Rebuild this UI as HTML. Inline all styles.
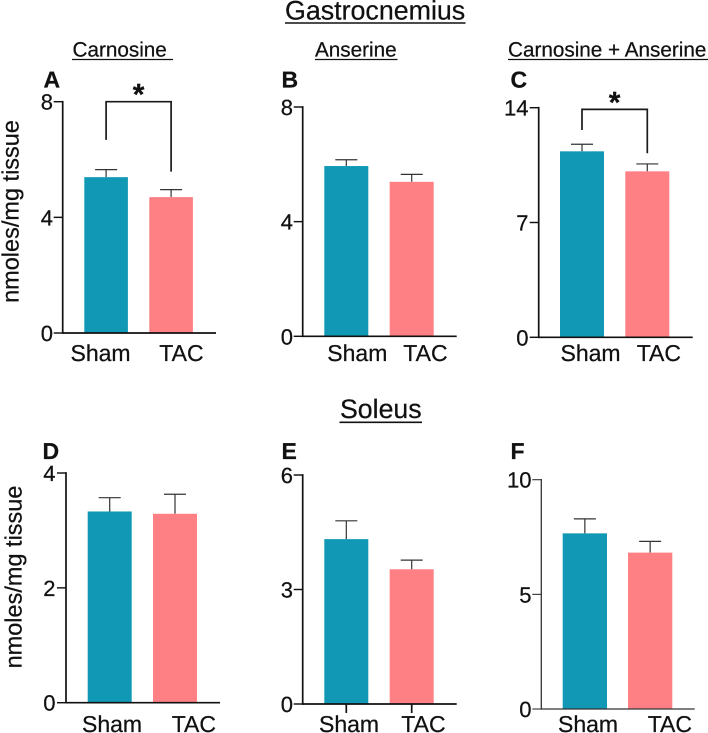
<!DOCTYPE html>
<html lang="en">
<head>
<meta charset="utf-8">
<title>Gastrocnemius and Soleus carnosine and anserine</title>
<style>
html,body{margin:0;padding:0;background:#fff;width:708px;height:733px;overflow:hidden}
svg{display:block}
text{font-family:"Liberation Sans",sans-serif;fill:#111;stroke:#111;stroke-width:0.25px;text-rendering:geometricPrecision}
</style>
</head>
<body>
<svg id="figure" xmlns="http://www.w3.org/2000/svg" width="708" height="733" viewBox="0 0 708 733">
  <text x="285" y="19.5" font-size="26.8">Gastrocnemius</text>
  <line x1="285" x2="465.5" y1="23" y2="23" stroke="#111" stroke-width="1.6"/>
  <text x="340" y="418" font-size="26.7">Soleus</text>
  <line x1="339.5" x2="422" y1="422.3" y2="422.3" stroke="#111" stroke-width="1.6"/>
  <text x="72.5" y="56.5" font-size="20.7">Carnosine</text>
  <line x1="72" x2="173" y1="59.5" y2="59.5" stroke="#111" stroke-width="1.3"/>
  <text x="315" y="56.5" font-size="20.7">Anserine</text>
  <line x1="315" x2="397.5" y1="59.5" y2="59.5" stroke="#111" stroke-width="1.3"/>
  <text x="508" y="56.5" font-size="20.7">Carnosine + Anserine</text>
  <line x1="508" x2="708" y1="59.5" y2="59.5" stroke="#111" stroke-width="1.3"/>
  <text transform="translate(18.5 211.5) rotate(-90)" text-anchor="middle" font-size="23.5">nmoles/mg tissue</text>
  <text transform="translate(21.5 577) rotate(-90)" text-anchor="middle" font-size="23.5">nmoles/mg tissue</text>
</svg>
<script>
// Chart data
const categories = ["Sham", "TAC"];

const panelAMeans = [5.39, 4.70];
const panelAUpper = [5.65, 4.96];
const panelATicks = [0, 4, 8];
const panelABracket = [8, 6.68, 5.58];

const panelBMeans = [5.94, 5.39];
const panelBUpper = [6.16, 5.65];
const panelBTicks = [0, 4, 8];

const panelCMeans = [11.34, 10.12];
const panelCUpper = [11.77, 10.57];
const panelCTicks = [0, 7, 14];
const panelCBracket = [13.9, 12.64, 11.22];

const panelDMeans = [3.33, 3.29];
const panelDUpper = [3.57, 3.63];
const panelDTicks = [0, 2, 4];

const panelEMeans = [4.32, 3.53];
const panelEUpper = [4.80, 3.77];
const panelETicks = [0, 3, 6];

const panelFMeans = [7.66, 6.82];
const panelFUpper = [8.29, 7.31];
const panelFTicks = [0, 5, 10];

const barColors = ["#1198b4", "#ff8084"];
const NS = "http://www.w3.org/2000/svg";
const figure = document.getElementById("figure");

function make(tag, parent, attrs) {
  const el = document.createElementNS(NS, tag);
  for (const k in attrs) el.setAttribute(k, attrs[k]);
  parent.appendChild(el);
  return el;
}

function drawPanel(p) {
  const group = make("g", figure, {});
  
  

  const top = p.ticks[p.ticks.length - 1];
  const yScale = v => p.y0 - (v / top) * (p.y0 - p.yTop);
  const barLeft = i => p.barX[i];
  const barCenter = i => p.barX[i] + p.barW / 2;

  const letter = make("text", group, {x: p.letterX, y: p.letterY, "font-size": 23, "font-weight": "bold"});
  letter.textContent = p.letter;
  
  

  p.means.forEach((m, i) => {
    const errX = barCenter(i);
    const stem = make("line", group, {x1: errX, x2: errX, y1: yScale(m), y2: yScale(p.upper[i]), stroke: "#333", "stroke-width": 1.2});
    
    
    const cap = make("line", group, {x1: errX - 11, x2: errX + 11, y1: yScale(p.upper[i]), y2: yScale(p.upper[i]), stroke: "#333", "stroke-width": 1.2});
    
    
    const bar = make("rect", group, {x: barLeft(i), y: yScale(m), width: p.barW, height: p.y0 - yScale(m), fill: barColors[i]});
    
    
    const label = make("text", group, {x: p.labelX[i], y: p.labelY, "font-size": 23});
    label.textContent = categories[i];
    
    
    if (p.xTicks) {
      const xTick = make("line", group, {x1: errX, x2: errX, y1: p.y0, y2: p.y0 + 9, stroke: p.axis, "stroke-width": p.axisW});
      
      
    }
  });

  const yAxis = make("line", group, {x1: p.axisX, x2: p.axisX, y1: p.yTop - p.axisW / 2, y2: p.y0 + p.axisW / 2, stroke: p.axis, "stroke-width": p.axisW});
  
  
  const xAxis = make("line", group, {x1: p.axisX, x2: p.axisEnd, y1: p.y0, y2: p.y0, stroke: p.axis, "stroke-width": p.axisW});
  
  

  p.ticks.forEach(t => {
    const tick = make("line", group, {x1: p.axisX - 9, x2: p.axisX, y1: yScale(t), y2: yScale(t), stroke: p.axis, "stroke-width": p.axisW * 0.85});
    
    
    const tickLabel = make("text", group, {x: p.tickRight, y: yScale(t) + 8, "font-size": 22, "text-anchor": "end"});
    tickLabel.textContent = t;
    
    
  });

  if (p.bracket) {
    const xa = barCenter(0), xb = barCenter(1);
    const path = make("path", group, {
      d: "M" + xa + " " + yScale(p.bracket[1]) + "V" + yScale(p.bracket[0]) + "H" + xb + "V" + yScale(p.bracket[2]),
      fill: "none", stroke: "#1a1a1a", "stroke-width": 1.7
    });
    
    
    const star = make("text", group, {x: (xa + xb) / 2, y: yScale(p.bracket[0]) + 3, "font-size": 30, "font-weight": "bold", "text-anchor": "middle"});
    star.textContent = "*";
    
    
  }
}

drawPanel({letter: "A", means: panelAMeans, upper: panelAUpper, ticks: panelATicks, bracket: panelABracket,
  axisX: 62.7, axisEnd: 216, y0: 333, yTop: 101.7, barX: [84.3, 149.3], barW: 43.6,
  labelX: [70.5, 159.3], labelY: 361, tickRight: 53, letterX: 43.5, letterY: 87.3, axis: "#111", axisW: 1.7});
drawPanel({letter: "B", means: panelBMeans, upper: panelBUpper, ticks: panelBTicks,
  axisX: 302.7, axisEnd: 456.7, y0: 336.3, yTop: 107, barX: [324.3, 389.7], barW: 44,
  labelX: [327.3, 403.3], labelY: 361, tickRight: 293, letterX: 281.5, letterY: 87.3, axis: "#111", axisW: 1.7});
drawPanel({letter: "C", means: panelCMeans, upper: panelCUpper, ticks: panelCTicks, bracket: panelCBracket,
  axisX: 538.7, axisEnd: 692.7, y0: 337.3, yTop: 107.7, barX: [560, 625.3], barW: 44,
  labelX: [560.5, 636.7], labelY: 361, tickRight: 528.5, letterX: 510.5, letterY: 87.3, axis: "#111", axisW: 1.7});
drawPanel({letter: "D", means: panelDMeans, upper: panelDUpper, ticks: panelDTicks,
  axisX: 66, axisEnd: 220, y0: 702.7, yTop: 473, barX: [87.7, 153], barW: 44,
  labelX: [82, 171.7], labelY: 732, tickRight: 55.5, letterX: 42.5, letterY: 459, axis: "#111", axisW: 1.7});
drawPanel({letter: "E", means: panelEMeans, upper: panelEUpper, ticks: panelETicks, xTicks: true,
  axisX: 302.7, axisEnd: 456.7, y0: 704, yTop: 475, barX: [324.3, 389.7], barW: 44,
  labelX: [319, 401.3], labelY: 732, tickRight: 293, letterX: 281.5, letterY: 459, axis: "#111", axisW: 1.7});
drawPanel({letter: "F", means: panelFMeans, upper: panelFUpper, ticks: panelFTicks,
  axisX: 541.3, axisEnd: 694.7, y0: 709, yTop: 479.7, barX: [562.7, 628], barW: 44.3,
  labelX: [558, 647.7], labelY: 732, tickRight: 531.5, letterX: 510.5, letterY: 459, axis: "#333", axisW: 1.3});
</script>
</body>
</html>
